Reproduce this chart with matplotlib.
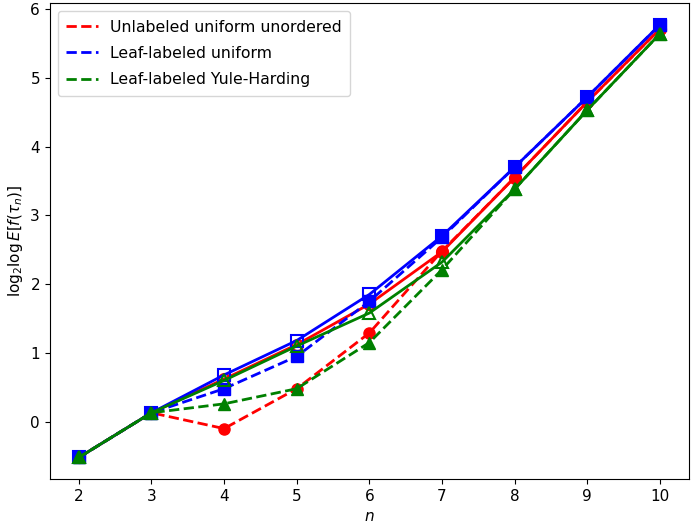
import matplotlib
matplotlib.use("Agg")
import matplotlib.pyplot as plt
from matplotlib.lines import Line2D

n = [2, 3, 4, 5, 6, 7, 8, 9, 10]

# solid lines (open markers)
red_solid = [-0.52, 0.13, 0.62, 1.12, 1.71, 2.47, 3.55, 4.65, 5.71]
blue_solid = [-0.52, 0.13, 0.68, 1.18, 1.85, 2.70, 3.70, 4.72, 5.77]
green_solid = [-0.52, 0.13, 0.60, 1.10, 1.58, 2.32, 3.38, 4.53, 5.64]

# dashed lines (filled markers)
red_dashed = [-0.52, 0.13, -0.10, 0.48, 1.29, 2.48, 3.55, 4.65, 5.71]
blue_dashed = [-0.52, 0.13, 0.48, 0.95, 1.75, 2.68, 3.70, 4.72, 5.77]
green_dashed = [-0.52, 0.13, 0.26, 0.48, 1.15, 2.21, 3.38, 4.53, 5.64]

labels = ["Unlabeled uniform unordered", "Leaf-labeled uniform", "Leaf-labeled Yule-Harding"]

fig = plt.figure(figsize=(6.91, 5.30), dpi=100)
ax = fig.add_subplot(111)
fig.subplots_adjust(left=0.072, right=0.997, top=0.994, bottom=0.096)

ms = 8
ax.plot(n, red_solid, '-', color='red', lw=2, marker='o', mfc='none', mec='red', ms=ms, mew=1.5)
ax.plot(n, red_dashed, '--', color='red', lw=2, marker='o', ms=ms)
ax.plot(n, blue_solid, '-', color='blue', lw=2, marker='s', mfc='none', mec='blue', ms=ms, mew=1.5)
ax.plot(n, blue_dashed, '--', color='blue', lw=2, marker='s', ms=ms)
ax.plot(n, green_solid, '-', color='green', lw=2, marker='^', mfc='none', mec='green', ms=ms, mew=1.5)
ax.plot(n, green_dashed, '--', color='green', lw=2, marker='^', ms=ms)

handles = [Line2D([], [], color=c, ls='--', lw=2) for c in ['red', 'blue', 'green']]
ax.legend(handles, labels, loc='upper left', fontsize=11.3, labelspacing=0.72, borderpad=0.55)

ax.set_xlabel(r'$n$', fontsize=11)
ax.set_ylabel(r'$\log_2\!\log E[f(\tau_n)]$', fontsize=11)
ax.tick_params(labelsize=11)
ax.set_xticks(n)

fig.savefig("out.png", dpi=100)
